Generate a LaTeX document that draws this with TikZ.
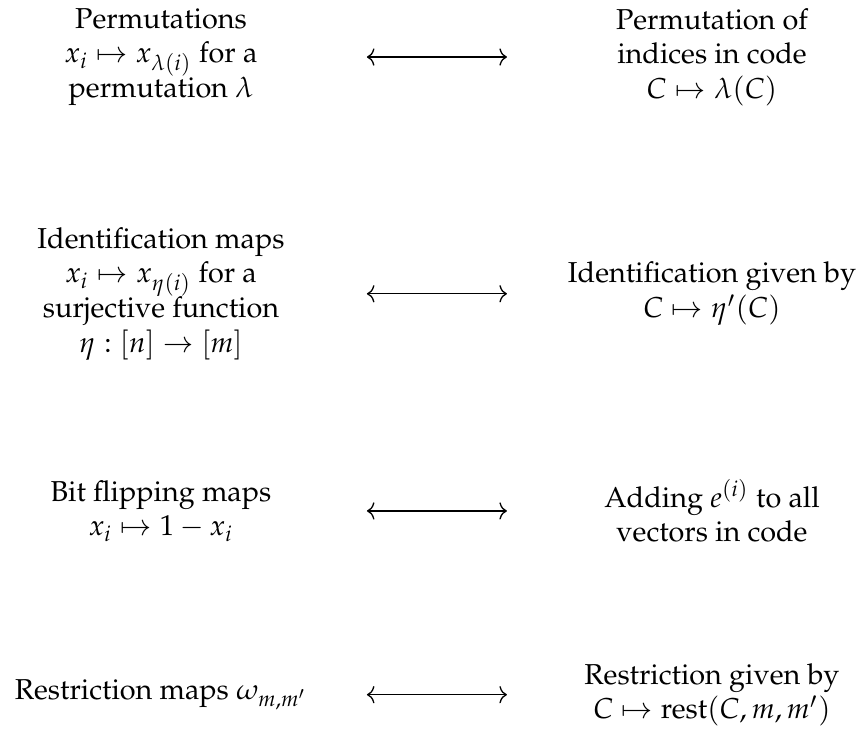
\documentclass[tikz,border=0pt]{standalone}
\usepackage[T1]{fontenc}
\usepackage{mathpazo}
\usetikzlibrary{arrows.meta}
\tikzset{
  cell/.style={align=center, inner sep=0pt, anchor=center},
  conn/.style={line width=0.45pt, {Computer Modern Rightarrow[length=2.6pt,width=6pt]}-{Computer Modern Rightarrow[length=2.6pt,width=6pt]}}
}
\begin{document}
\begin{tikzpicture}[x=1pt,y=1pt]
\fill[white] (0,0) rectangle (298.6,-253.5);
\useasboundingbox (0,0) rectangle (298.6,-253.5);
% left column
\node[cell] (a1) at (55.9,-19.8) {Permutations\\ $x_i\mapsto x_{\lambda(i)}$ for a\\ permutation $\lambda$};
\node[cell] (a2) at (55.9,-102.0) {Identification maps\\ $x_i\mapsto x_{\eta(i)}$ for a\\ surjective function\\ $\eta:[n]\to[m]$};
\node[cell] (a3) at (55.9,-177.4) {Bit flipping maps\\ $x_i\mapsto 1-x_i$};
\node[cell] (a4) at (55.9,-241.2) {Restriction maps $\omega_{m,m'}$};
% right column
\node[cell] (b1) at (247.2,-19.8) {Permutation of\\ indices in code\\ $C\mapsto\lambda(C)$};
\node[cell] (b2) at (247.2,-102.0) {Identification given by\\ $C\mapsto\eta'(C)$};
\node[cell] (b3) at (247.2,-177.4) {Adding $e^{(i)}$ to all\\ vectors in code};
\node[cell] (b4) at (247.2,-241.2) {Restriction given by\\ $C\mapsto\mathrm{rest}(C,m,m')$};
% arrow end points
\foreach \r/\y in {1/-19.8,2/-102.0,3/-177.4,4/-241.2}{
  \coordinate (l\r) at (127.4,\y);
  \coordinate (r\r) at (176.0,\y);
}
\draw[conn] (l1) -- (r1);
\draw[conn] (l2) -- (r2);
\draw[conn] (l3) -- (r3);
\draw[conn] (l4) -- (r4);
\end{tikzpicture}
\end{document}
